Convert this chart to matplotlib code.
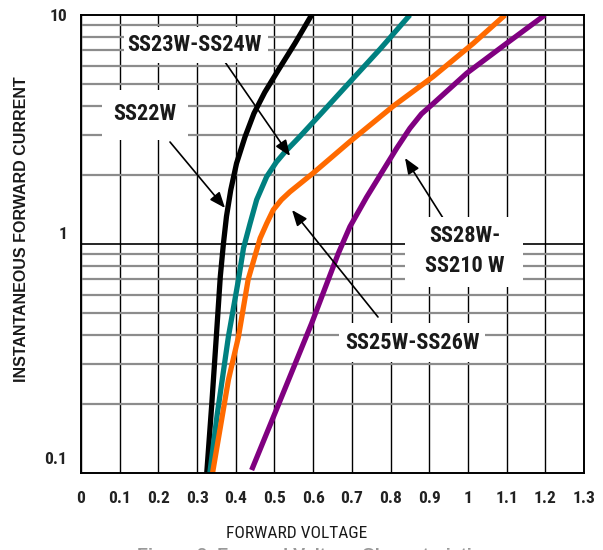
import os
import matplotlib
matplotlib.use("Agg")
import matplotlib.pyplot as plt
import matplotlib.transforms as mtransforms
from matplotlib import font_manager
from matplotlib.font_manager import FontProperties

# ---------------- data ----------------
ss22w_v = [0.325, 0.338, 0.350, 0.360, 0.368, 0.376, 0.387, 0.402, 0.424, 0.447, 0.475, 0.510, 0.553, 0.596]
ss22w_i = [0.1, 0.2, 0.4, 0.72, 1.0, 1.32, 1.72, 2.25, 2.94, 3.72, 4.6, 5.75, 7.52, 10]

ss23w_v = [0.333, 0.352, 0.381, 0.407, 0.420, 0.437, 0.454, 0.480, 0.505, 0.525, 0.566, 0.626, 0.695, 0.773, 0.850]
ss23w_i = [0.1, 0.18, 0.394, 0.70, 0.96, 1.23, 1.56, 1.97, 2.28, 2.5, 2.95, 3.8, 5.1, 7.1, 10]

ss25w_v = [0.340, 0.381, 0.407, 0.432, 0.454, 0.463, 0.480, 0.497, 0.518, 0.540, 0.600, 0.695, 0.807, 0.910, 1.014, 1.096]
ss25w_i = [0.1, 0.255, 0.394, 0.70, 0.94, 1.06, 1.23, 1.41, 1.56, 1.69, 2.04, 2.80, 4.0, 5.38, 7.52, 10]

ss28w_v = [0.441, 0.519, 0.596, 0.665, 0.695, 0.738, 0.781, 0.816, 0.850, 0.880, 0.910, 0.997, 1.100, 1.199]
ss28w_i = [0.103, 0.216, 0.45, 0.91, 1.19, 1.60, 2.10, 2.62, 3.2, 3.7, 4.1, 5.57, 7.52, 10]

x_ticks = [0, 0.1, 0.2, 0.3, 0.4, 0.5, 0.6, 0.7, 0.8, 0.9, 1.0, 1.1, 1.2, 1.3]
x_tick_labels = ["0", "0.1", "0.2", "0.3", "0.4", "0.5", "0.6", "0.7", "0.8", "0.9", "1", "1.1", "1.2", "1.3"]
y_ticks = [0.1, 1, 10]
y_tick_labels = ["0.1", "1", "10"]

# ---------------- fonts ----------------
def find_narrow(bold):
    files = [f.fname for f in font_manager.fontManager.ttflist]
    prefs = ["LiberationSansNarrow", "Arimo", "RobotoCondensed", "Roboto_Condensed",
             "OpenSansCondensed", "OpenSans_Condensed", "DejaVuSansCondensed"]
    for p in prefs:
        for fn in files:
            b = os.path.basename(fn).replace(" ", "").replace("-", "")
            if p.replace("-", "") in b and "Italic" not in b and "Oblique" not in b:
                isb = "Bold" in b
                if isb == bold and ("Condensed" in b or "Narrow" in b):
                    return fn
    return None

nb = find_narrow(True)
nr = find_narrow(False)

def fprop(size, bold=True):
    fn = nb if bold else nr
    if fn:
        return FontProperties(fname=fn, size=size)
    return FontProperties(family=["Liberation Sans", "DejaVu Sans"],
                          weight="bold" if bold else "normal", size=size * 0.84)

W, H = 603, 550
fig = plt.figure(figsize=(W / 100, H / 100), dpi=100)
L, R, T, B = 81, 584, 15, 473
ax = fig.add_axes([L / W, 1 - B / H, (R - L) / W, (B - T) / H])

ax.set_xlim(0, 1.3)
ax.set_yscale("log")
ax.set_ylim(0.1, 10)

# grid
for xv in x_ticks:
    ax.axvline(xv, color="black", lw=1.0, zorder=1)
for dec in [0.1, 1]:
    for m in range(2, 10):
        ax.axhline(dec * m, color="#8c8c8c", lw=1.6, zorder=1)
ax.axhline(1, color="black", lw=1.2, zorder=1.2)

# curves
lw = 3.8
kw = dict(lw=lw, zorder=5, solid_capstyle="butt", solid_joinstyle="round")
ax.plot(ss22w_v, ss22w_i, color="black", **kw)
ax.plot(ss23w_v, ss23w_i, color="#008080", **kw)
ax.plot(ss25w_v, ss25w_i, color="#ff6a00", **kw)
ax.plot(ss28w_v, ss28w_i, color="#800080", **kw)

# ticks
ax.set_xticks(x_ticks)
ax.set_xticklabels(x_tick_labels)
ax.set_yticks(y_ticks)
ax.set_yticklabels(y_tick_labels)
ax.minorticks_off()
ax.tick_params(axis="both", length=0)
ax.tick_params(axis="x", pad=13)
ax.tick_params(axis="y", pad=10)
for lab in ax.get_xticklabels() + ax.get_yticklabels():
    lab.set_fontproperties(fprop(12.5, True))
    lab.set_color("#222222")
offs = {"0.1": 15, "1": 11, "10": 0}
for lab in ax.get_yticklabels():
    dy = offs.get(lab.get_text(), 0)
    lab.set_transform(lab.get_transform() + mtransforms.ScaledTranslation(0, dy / 100, fig.dpi_scale_trans))

for s in ax.spines.values():
    s.set_color("black")
    s.set_linewidth(1.4)
    s.set_zorder(6)

def fp(x, y):
    return (x, H - y)

def label(text, cx, cy, x0, y0, x1, y1):
    rect = plt.Rectangle((x0, H - y1), x1 - x0, y1 - y0, transform=None,
                         facecolor="white", edgecolor="none", zorder=3)
    fig.add_artist(rect)
    fig.text(cx / W, 1 - cy / H, text, ha="center", va="center",
             fontproperties=fprop(16, True), color="#1a1a1a", zorder=4,
             linespacing=1.45)

label("SS23W-SS24W", 194, 45, 124, 27, 268, 63)
label("SS22W", 145, 114, 102, 90, 188, 140)
label("SS28W-\nSS210 W", 465, 251, 405, 217, 523, 287)
label("SS25W-SS26W", 412, 343, 339, 323, 485, 362)

def arrow(x0, y0, x1, y1):
    ax.annotate("", xy=fp(x1, y1), xycoords="figure pixels",
                xytext=fp(x0, y0), textcoords="figure pixels",
                arrowprops=dict(arrowstyle="-|>,head_length=0.95,head_width=0.38",
                                color="black", lw=1.2, shrinkA=0, shrinkB=0),
                zorder=7)

arrow(225, 62, 290, 156)
arrow(170, 142, 225, 208)
arrow(443, 218, 405, 158)
arrow(378, 317, 292, 210)

# axis titles
fig.text(22 / W, 1 - 229 / H, "INSTANTANEOUS FORWARD CURRENT", rotation=90,
         ha="center", va="center", fontsize=11.5, fontweight="bold",
         family=["Liberation Sans", "DejaVu Sans"], color="#1a1a1a")
fig.text(297 / W, 1 - 533 / H, "FORWARD VOLTAGE", ha="center", va="center",
         fontproperties=fprop(12.5, False), color="#1a1a1a")
fig.text(314 / W, 1 - 548 / H, "Figure 2. Forward Voltage Characteristics", ha="center", va="top",
         fontsize=13, fontweight="bold", family=["Liberation Sans", "DejaVu Sans"], color="#999999")

fig.savefig("out.png", dpi=100, facecolor="white")
